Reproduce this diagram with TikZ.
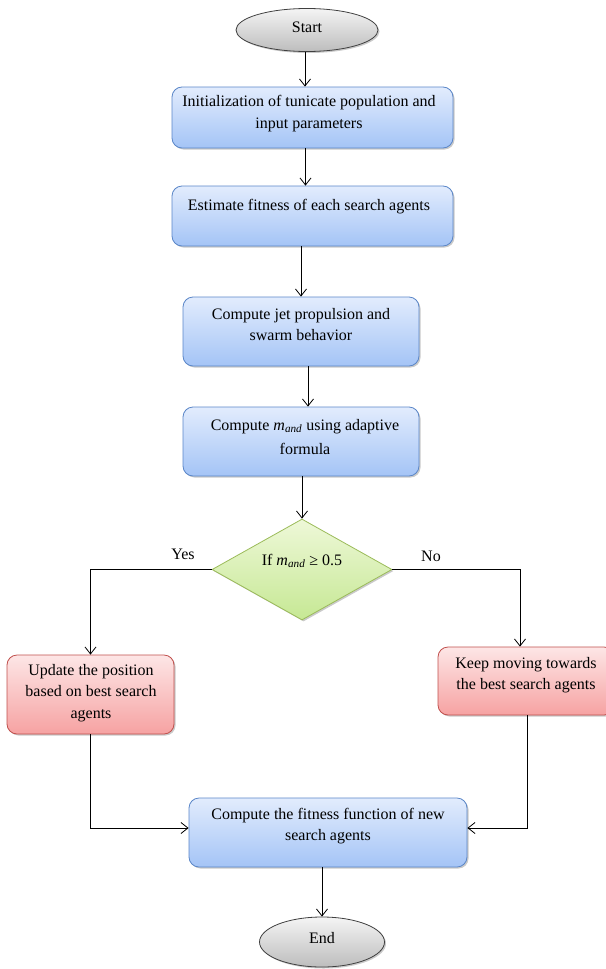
\documentclass[tikz,border=0pt]{standalone}
\usepackage{fontspec}
\setmainfont{Liberation Serif}
\usetikzlibrary{shapes.geometric,arrows.meta,shadows,calc}
\definecolor{bluetop}{HTML}{E2ECFD}
\definecolor{bluebot}{HTML}{A4C4F6}
\definecolor{blueline}{HTML}{5A86C8}
\definecolor{redtop}{HTML}{FDE6E6}
\definecolor{redbot}{HTML}{F6A2A2}
\definecolor{redline}{HTML}{C0504D}
\definecolor{greentop}{HTML}{EEF8D8}
\definecolor{greenbot}{HTML}{C6E894}
\definecolor{greenline}{HTML}{9BBB59}
\definecolor{graytop}{HTML}{F4F4F4}
\definecolor{graybot}{HTML}{BDBDBD}
\newcommand{\mand}{\textit{m}\textsubscript{\textit{and}}}
\begin{document}
\begin{tikzpicture}[x=1pt,y=-1pt,
  font=\fontsize{16}{21.5}\selectfont,
  shd/.style={drop shadow={shadow xshift=1.5pt,shadow yshift=-1.5pt,opacity=0.35,fill=black!60}},
  bluebox/.style={rectangle,rounded corners=10pt,draw=blueline,line width=0.8pt,top color=bluetop,bottom color=bluebot,shd,inner sep=0pt},
  redbox/.style={rectangle,rounded corners=10pt,draw=redline,line width=0.8pt,top color=redtop,bottom color=redbot,shd,inner sep=0pt},
  terminal/.style={ellipse,draw=black!75,line width=0.8pt,top color=graytop,bottom color=graybot,shd,inner sep=0pt},
  decision/.style={diamond,draw=greenline,line width=0.8pt,top color=greentop,bottom color=greenbot,shd,inner sep=0pt,aspect=1.8},
  txt/.style={align=center,inner sep=0pt},
  arr/.style={-{Straight Barb[length=7pt,width=11pt]},line width=0.8pt}]
\useasboundingbox (0,0) rectangle (605,969);

% shapes
\node[terminal,minimum width=142pt,minimum height=43pt] (start) at (307,30) {};
\node[txt] (starttxt) at (307,27) {Start};

\node[bluebox,minimum width=281pt,minimum height=61pt] (init) at (312.5,117.5) {};
\node[txt] (inittxt) at (309,113.5) {Initialization of tunicate population and\\input parameters};

\node[bluebox,minimum width=281pt,minimum height=60pt] (est) at (312.5,216) {};
\node[txt] (esttxt) at (309,207) {Estimate fitness of each search agents};

\node[bluebox,minimum width=236pt,minimum height=69pt] (jet) at (301,331.5) {};
\node[txt] (jettxt) at (301,324.5) {Compute jet propulsion and\\swarm behavior};

\node[bluebox,minimum width=236pt,minimum height=69pt] (mandbox) at (301,441.5) {};
\node[txt] (mandtxt) at (305,437) {Compute \mand{} using adaptive\\[3pt]formula};

\node[decision,minimum width=180pt,minimum height=101pt] (dia) at (302,569.5) {};
\node[txt] (diatxt) at (302,561) {If \mand{} ≥ 0.5};

\node[redbox,minimum width=167pt,minimum height=79pt] (update) at (90.5,694.5) {};
\node[txt] (updatetxt) at (91,693) {Update the position\\based on best search\\agents};

\node[redbox,minimum width=176pt,minimum height=68pt] (keep) at (526,681) {};
\node[txt] (keeptxt) at (526,675) {Keep moving towards\\the best search agents};

\node[bluebox,minimum width=278pt,minimum height=69pt] (fit) at (328,832.5) {};
\node[txt] (fittxt) at (328,826) {Compute the fitness function of new\\search agents};

\node[terminal,minimum width=125pt,minimum height=50pt] (end) at (322,942) {};
\node[txt] (endtxt) at (322,938) {End};

% labels
\node[txt] (yes) at (183,554) {Yes};
\node[txt] (no) at (431,556) {No};

% connectors
\draw[arr] ([xshift=-2pt]start.south) -- ([xshift=-2pt]start.south |- init.north);
\draw[arr] ([xshift=-7pt]init.south) -- ([xshift=-7pt]init.south |- est.north);
\draw[arr] (jet |- est.south) -- (jet.north);
\draw[arr] ([xshift=7pt]jet.south) -- ([xshift=7pt]jet.south |- mandbox.north);
\draw[arr] (dia |- mandbox.south) -- (dia.north);
\draw[arr] (dia.west) -| (update.north);
\draw[arr] (dia.east) -| ([xshift=-6pt]keep.north);
\draw[arr] (update.south) |- ([yshift=4.5pt]fit.west);
\draw[arr] ([xshift=1pt]keep.south) |- ([yshift=4.5pt]fit.east);
\draw[arr] (end |- fit.south) -- (end.north);
\end{tikzpicture}
\end{document}
